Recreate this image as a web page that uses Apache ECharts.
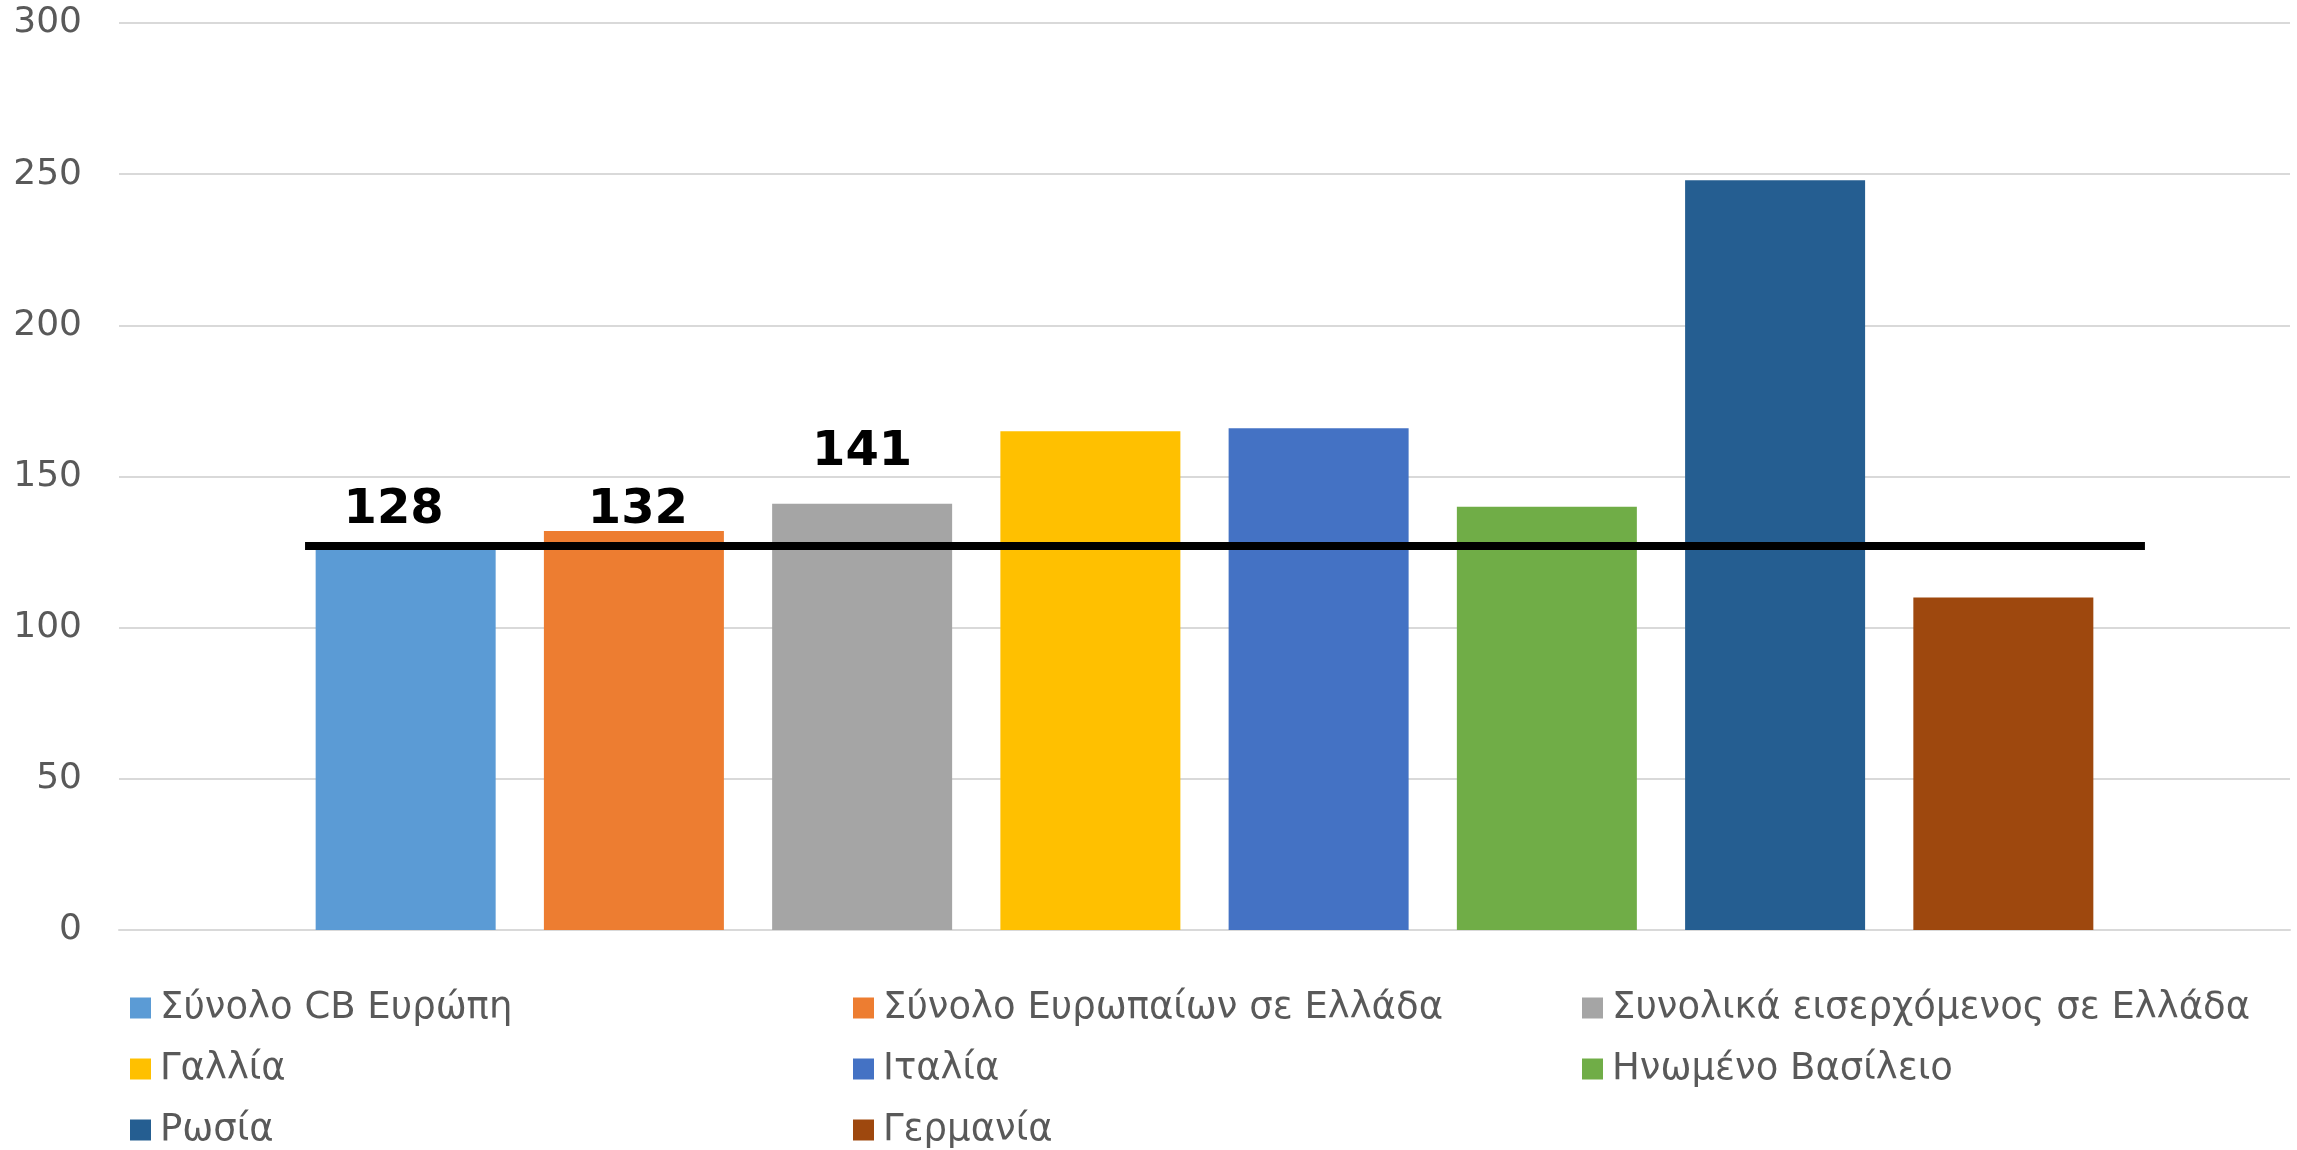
<!DOCTYPE html>
<html>
<head>
<meta charset="utf-8">
<script src="https://cdn.jsdelivr.net/npm/echarts@6/dist/echarts.min.js"></script>
<style>
    html, body { margin: 0; padding: 0; background: #fff; }
    #chart { width: 2297px; height: 1150px; }
</style>
</head>
<body>
<div id="chart"></div>
<script>
// one category, every bar is its own series (as in the legend)
const seriesNames = [
    "Σύνολο CB Ευρώπη",
    "Σύνολο Ευρωπαίων σε Ελλάδα",
    "Συνολικά εισερχόμενος σε Ελλάδα",
    "Γαλλία",
    "Ιταλία",
    "Ηνωμένο Βασίλειο",
    "Ρωσία",
    "Γερμανία",
];
const seriesValues = [128, 132, 141, 165, 166, 140, 248, 110];
const seriesColors = [
    "#5B9BD5", "#ED7D31", "#A5A5A5", "#FFC000",
    "#4472C4", "#70AD47", "#255E91", "#9E480E",
];
// only the first three bars carry a value label
const labelled = [true, true, true, false, false, false, false, false];
const labelDistance = [8, -4, 27, 0, 0, 0, 0, 0];
const labelOffsetX = [-12, 4, 0, 0, 0, 0, 0, 0];
const referenceValue = 127;
const yTicks = { min: 0, max: 300, interval: 50 };

const chartDom = document.getElementById("chart");
const myChart = echarts.init(chartDom);

const font = "DejaVu Sans, Verdana, sans-serif";

const series = seriesNames.map((name, i) => {
    const s = {
        name: name,
        type: "bar",
        data: [seriesValues[i]],
        barWidth: 180,
        barGap: "26.8%",
        itemStyle: { color: seriesColors[i] },
        label: {
            show: labelled[i],
            position: "top",
            distance: labelDistance[i],
            offset: [labelOffsetX[i], 0],
            color: "#000",
            fontFamily: font,
            fontWeight: "bold",
            fontSize: 48,
        },
        z: 2,
    };
    return s;
});

// black horizontal reference line over the bars
series[0].markLine = {
    silent: true,
    symbol: "none",
    label: { show: false },
    lineStyle: { color: "#000", width: 8, type: "solid" },
    data: [[{ x: "13.28%", yAxis: referenceValue }, { x: "93.38%", yAxis: referenceValue }]],
    z: 5,
};

const legendCommon = {
    orient: "vertical",
    top: 989,
    height: 200,
    padding: 0,
    itemWidth: 21,
    itemHeight: 21,
    itemGap: 23,
    icon: "rect",
    textStyle: {
        color: "#595959",
        fontFamily: font,
        fontSize: 37,
        lineHeight: 38,
        padding: [0, 0, 0, 4],
    },
};

const option = {
    animation: false,
    grid: { left: 119, right: 7, top: 23, bottom: 220 },
    legend: [
        Object.assign({}, legendCommon, { left: 130, data: [seriesNames[0], seriesNames[3], seriesNames[6]] }),
        Object.assign({}, legendCommon, { left: 853, data: [seriesNames[1], seriesNames[4], seriesNames[7]] }),
        Object.assign({}, legendCommon, { left: 1582, data: [seriesNames[2], seriesNames[5]] }),
    ],
    xAxis: {
        type: "category",
        data: [""],
        axisTick: { show: false },
        axisLabel: { show: false },
        axisLine: { lineStyle: { color: "#d9d9d9", width: 2 } },
    },
    yAxis: {
        type: "value",
        min: yTicks.min,
        max: yTicks.max,
        interval: yTicks.interval,
        axisLine: { show: false },
        axisTick: { show: false },
        axisLabel: {
            color: "#595959",
            fontFamily: font,
            fontSize: 36,
            margin: 37,
        },
        splitLine: { lineStyle: { color: "#d9d9d9", width: 2 } },
    },
    series: series,
};

myChart.setOption(option);
</script>
</body>
</html>
